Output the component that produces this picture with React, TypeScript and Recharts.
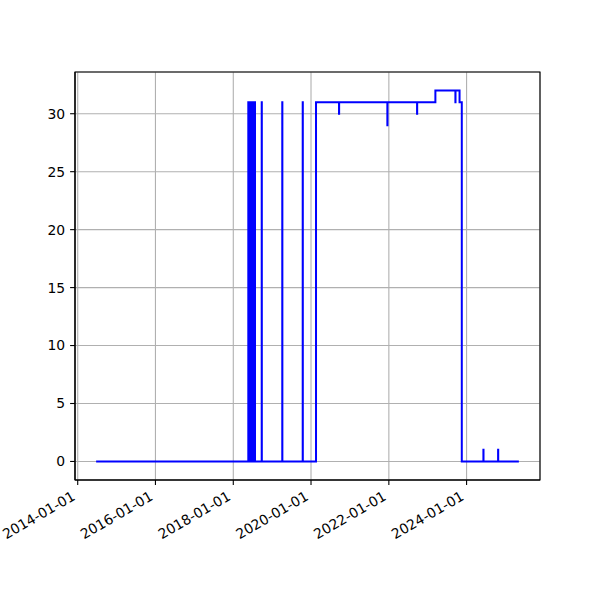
import { LineChart, Line, XAxis, YAxis, CartesianGrid, ReferenceArea } from 'recharts'

// change points of the step series (value holds until next date)
const dates = [
  '2014-06-23',
  '2018-05-22', '2018-05-26', '2018-05-30', '2018-06-03', '2018-06-07', '2018-06-11',
  '2018-06-15', '2018-06-19', '2018-06-23', '2018-06-27', '2018-07-01', '2018-07-05',
  '2018-07-09', '2018-07-13', '2018-07-17', '2018-07-24',
  '2018-09-25', '2018-09-26',
  '2019-04-06', '2019-04-07',
  '2019-10-15', '2019-10-16',
  '2020-02-17',
  '2020-09-20', '2020-09-21',
  '2021-12-18', '2021-12-19',
  '2022-09-23', '2022-09-24',
  '2023-03-14',
  '2023-09-18', '2023-09-19',
  '2023-10-27',
  '2023-11-17',
  '2024-06-07', '2024-06-08',
  '2024-10-23', '2024-10-24',
  '2025-05-06'
]

const values = [
  0,
  31, 0, 31, 0, 31, 0,
  31, 0, 31, 0, 31, 0,
  31, 0, 31, 0,
  31, 0,
  31, 0,
  31, 0,
  31,
  30, 31,
  29, 31,
  30, 31,
  32,
  31, 32,
  31,
  0,
  1, 0,
  1, 0,
  0
]

const xTickLabels = ['2014-01-01', '2016-01-01', '2018-01-01', '2020-01-01', '2022-01-01', '2024-01-01']
const yTicks = [0, 5, 10, 15, 20, 25, 30]

const data = dates.map((d, i) => ({ t: Date.parse(d), v: values[i] }))
const xTicks = xTickLabels.map(d => Date.parse(d))

// matplotlib-like 5% margins
const tMin = Math.min(...data.map(p => p.t))
const tMax = Math.max(...data.map(p => p.t))
const xPad = (tMax - tMin) * 0.05
const xDomain: [number, number] = [tMin - xPad, tMax + xPad]
const vMin = Math.min(...values)
const vMax = Math.max(...values)
const yPad = (vMax - vMin) * 0.05
const yDomain: [number, number] = [vMin - yPad, vMax + yPad]

const FONT = '"DejaVu Sans", sans-serif'

const fmt = (t: number) => new Date(t).toISOString().slice(0, 10)

function DateTick(props: any) {
  const { x, y, payload } = props
  const bx = x - 1.6
  const by = y + 9.3
  return (
    <text
      x={bx}
      y={by}
      textAnchor="end"
      transform={`rotate(-30, ${bx}, ${by})`}
      fontFamily={FONT}
      fontSize={13.9}
      fill="#000"
    >
      {fmt(payload.value)}
    </text>
  )
}

export default function App() {
  return (
    <div style={{ position: 'absolute', left: 0, top: 0, width: 600, height: 600, background: '#fff' }}>
      <LineChart width={600} height={600} data={data} margin={{ top: 72, right: 60, bottom: 0, left: 0 }}>
        <CartesianGrid stroke="#b0b0b0" strokeWidth={1.1} />
        <XAxis
          dataKey="t"
          type="number"
          domain={xDomain}
          ticks={xTicks}
          allowDataOverflow
          height={120}
          tick={<DateTick />}
          tickSize={4.9}
          tickMargin={4.9}
          stroke="#000"
          axisLine={{ stroke: '#000', strokeWidth: 1.1 }}
          tickLine={{ stroke: '#000', strokeWidth: 1.1 }}
          interval={0}
        />
        <YAxis
          type="number"
          domain={yDomain}
          ticks={yTicks}
          allowDataOverflow
          width={75}
          tickSize={4.9}
          tickMargin={4.9}
          tick={{ fill: '#000', fontSize: 13.9, fontFamily: FONT }}
          axisLine={{ stroke: '#000', strokeWidth: 1.1 }}
          tickLine={{ stroke: '#000', strokeWidth: 1.1 }}
          interval={0}
        />
        <Line
          type="stepAfter"
          dataKey="v"
          stroke="#0000ff"
          strokeWidth={2}
          dot={false}
          isAnimationActive={false}
        />
        <ReferenceArea
          x1={xDomain[0]}
          x2={xDomain[1]}
          y1={yDomain[0]}
          y2={yDomain[1]}
          fill="none"
          stroke="#000"
          strokeWidth={1.1}
        />
      </LineChart>
    </div>
  )
}
